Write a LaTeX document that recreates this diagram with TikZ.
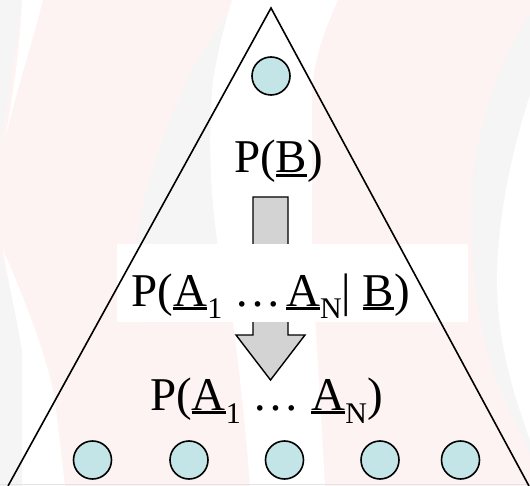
\documentclass[tikz,border=0pt]{standalone}
\usepackage{fontspec}
\setmainfont{Liberation Serif}
\definecolor{bgpink}{RGB}{253,243,243}
\definecolor{bggray}{RGB}{245,245,245}
\definecolor{nodecyan}{RGB}{195,229,231}
\definecolor{arrowgray}{RGB}{211,211,211}
\newcommand{\ulx}[1]{\setbox0=\hbox{#1}\rlap{\rule[-4pt]{\wd0}{2.6pt}}\box0}
\newcommand{\subx}[1]{\raisebox{-13pt}{\fontsize{30}{30}\selectfont #1}}
\tikzset{
  varnode/.style={circle,draw=black,line width=1.6pt,fill=nodecyan,minimum size=38pt,inner sep=0pt},
  formula/.style={inner sep=0pt,anchor=base west,font=\fontsize{47}{50}\selectfont},
  edge/.style={draw=black,line width=1.6pt,line join=miter},
}
\begin{document}
\begin{tikzpicture}[x=1pt,y=-1pt]
\useasboundingbox (0,0) rectangle (530,486);
% background swooshes
\fill[bgpink] (0,0) rectangle (530,486);
\fill[bggray] (0,0) -- (22,0) .. controls (15,60) and (6,110) .. (0,140) -- cycle;
\fill[white] (22,0) -- (43,0) .. controls (30,50) and (14,100) .. (5,140) .. controls (12,100) and (20,50) .. (22,0) -- cycle;
\fill[bggray] (0,250) .. controls (8,290) and (18,320) .. (22,350) -- (22,486) -- (0,486) -- cycle;
\fill[white] (3,250) .. controls (25,300) and (45,350) .. (55,400) -- (65,486) -- (22,486) -- (22,350) .. controls (15,310) and (8,280) .. (3,250) -- cycle;
\fill[bggray] (232,10) .. controls (190,60) and (150,150) .. (135,250) -- (140,322) -- (233,322) .. controls (215,250) and (205,170) .. (213,80) .. controls (218,50) and (226,25) .. (232,10) -- cycle;
\fill[white] (232,0) -- (338,0) .. controls (325,30) and (312,60) .. (312,100) -- (312,250) .. controls (314,300) and (320,400) .. (325,486) -- (250,486) .. controls (245,420) and (238,360) .. (233,322) .. controls (215,250) and (205,170) .. (213,80) .. controls (218,50) and (226,20) .. (232,0) -- cycle;
\fill[bggray] (530,15) .. controls (505,50) and (480,110) .. (473,180) .. controls (468,260) and (478,340) .. (505,400) .. controls (515,420) and (525,440) .. (530,455) -- cycle;
\fill[white] (530,95) .. controls (512,150) and (497,220) .. (497,280) .. controls (497,340) and (512,390) .. (530,440) -- cycle;
\draw[color={rgb,255:red,228;green,228;blue,228},line width=1pt] (0,484.5) -- (530,484.5);
% block arrow
\draw[edge,line width=1.4pt,fill=arrowgray] (253,197) -- (288,197) -- (288,335) -- (305,335) -- (270.5,380) -- (236,335) -- (253,335) -- cycle;
% white panel behind middle formula
\fill[white] (117,244) rectangle (468,322);
% triangle
\coordinate (apex) at (271,8);
\coordinate (bl) at (8,486);
\coordinate (br) at (529,486);
\draw[edge] (bl) -- (apex) -- (br);
% nodes
\node[varnode] (b) at (271,76) {};
\node[varnode] (a1) at (92.5,460) {};
\node[varnode] (a2) at (189,460) {};
\node[varnode] (a3) at (284.5,460) {};
\node[varnode] (a4) at (380,460) {};
\node[varnode] (a5) at (460.5,460) {};
% formulas
\node[formula] (pb) at (234,173) {P(\ulx{B})};
\node[formula] (pab) at (131.5,306) {P(\ulx{A}\subx{1} …\hspace{5pt}\ulx{A}\subx{N}| \ulx{B})};
\node[formula] (pa) at (150,410) {P(\ulx{A}\subx{1} … \ulx{A}\subx{N})};
\end{tikzpicture}
\end{document}
